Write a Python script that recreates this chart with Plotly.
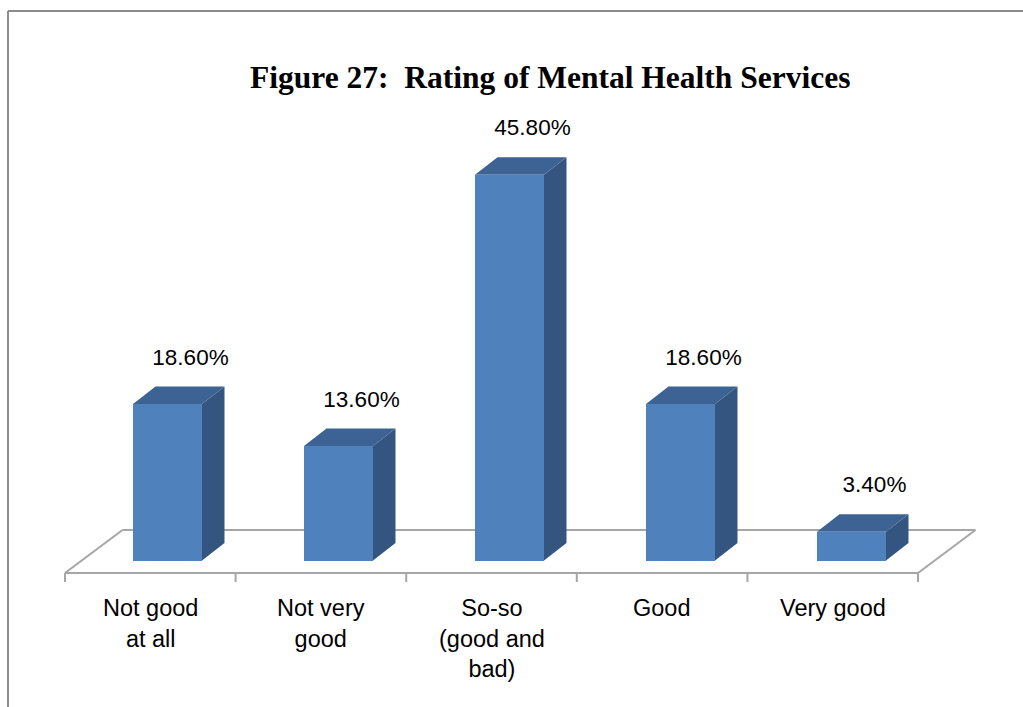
import plotly.graph_objects as go

# ---- data ----
categories = ["Not good<br>at all", "Not very<br>good", "So-so<br>(good and<br>bad)", "Good", "Very good"]
values = [18.6, 13.6, 45.8, 18.6, 3.4]
value_labels = [f"{v:.2f}%" for v in values]
title_text = "Figure 27:  Rating of Mental Health Services"

# ---- geometry (pixel <-> data mapping) ----
W, H = 1023, 707
PX_X0, PX_PER_CAT = 167.5, 171.0      # pixel of category 0 front-face centre, px per category
PX_Y0, PX_PER_PCT = 560.5, 8.42       # pixel of 0 %, px per percent

def dx(px):
    return px / PX_PER_CAT

def dy(px):
    return px / PX_PER_PCT

def X(px):
    return (px - PX_X0) / PX_PER_CAT

def Y(px):
    return (PX_Y0 - px) / PX_PER_PCT

BAR_W = dx(69)
DEPTH_X, DEPTH_Y = dx(22.5), dy(17.5)

FRONT = "#4F81BD"
SIDE = "#34557F"
TOP = "#3C6393"
FLOOR = "#A6A6A6"

fig = go.Figure()

# front faces
xs = list(range(len(values)))
fig.add_trace(go.Bar(x=xs, y=values, width=BAR_W, marker=dict(color=FRONT, line=dict(width=0)),
                     hoverinfo="skip"))

# side and top faces
for i, v in zip(xs, values):
    xr = i + BAR_W / 2
    xl = i - BAR_W / 2
    fig.add_trace(go.Scatter(
        x=[xr, xr + DEPTH_X, xr + DEPTH_X, xr, xr],
        y=[0, DEPTH_Y, v + DEPTH_Y, v, 0],
        fill="toself", fillcolor=SIDE, mode="lines", line=dict(width=0, color=SIDE),
        hoverinfo="skip"))
    fig.add_trace(go.Scatter(
        x=[xl, xl + DEPTH_X, xr + DEPTH_X, xr, xl],
        y=[v, v + DEPTH_Y, v + DEPTH_Y, v, v],
        fill="toself", fillcolor=TOP, mode="lines", line=dict(width=0, color=TOP),
        hoverinfo="skip"))

# value labels
fig.add_trace(go.Scatter(
    x=[i + dx(23) for i in xs], y=[v + dy(45) for v in values],
    mode="text", text=value_labels, textposition="middle center",
    textfont=dict(family="Liberation Sans", size=22.5, color="#000000"), hoverinfo="skip"))

# floor (drawn below traces)
fl, fr, fyf = X(65), X(918), Y(573)
bdx, bdy = dx(57.5), dy(43)
shapes = []
floor_segments = [
    (fl, fyf, fr, fyf),
    (fl + bdx, fyf + bdy, fr + bdx, fyf + bdy),
    (fl, fyf, fl + bdx, fyf + bdy),
    (fr, fyf, fr + bdx, fyf + bdy),
]
n = len(values)
for k in range(n + 1):
    tx = fl + k * (fr - fl) / n
    floor_segments.append((tx, fyf, tx, Y(582)))
for x0, y0, x1, y1 in floor_segments:
    shapes.append(dict(type="line", xref="x", yref="y", x0=x0, y0=y0, x1=x1, y1=y1,
                       line=dict(color=FLOOR, width=2), layer="below"))

# outer frame (left and top edges)
fx, fy = 8 / W, 1 - 11 / H
shapes.append(dict(type="line", xref="paper", yref="paper", x0=fx, y0=0, x1=fx, y1=fy,
                   line=dict(color="#8C8C8C", width=2)))
shapes.append(dict(type="line", xref="paper", yref="paper", x0=fx, y0=fy, x1=1, y1=fy,
                   line=dict(color="#8C8C8C", width=2)))

# category labels
annotations = []
for k, c in enumerate(categories):
    cx = fl + (k + 0.5) * (fr - fl) / n
    annotations.append(dict(x=cx, y=Y(593), xref="x", yref="y", text=c, showarrow=False,
                            xanchor="center", yanchor="top", align="center",
                            font=dict(family="Liberation Sans", size=23.5, color="#000000")))

# title
annotations.append(dict(x=X(550), y=Y(77), xref="x", yref="y", text=f"<b>{title_text}</b>",
                        showarrow=False, xanchor="center", yanchor="middle",
                        font=dict(family="Liberation Serif", size=31.5, color="#000000")))

fig.update_layout(
    width=W, height=H, margin=dict(l=0, r=0, t=0, b=0),
    paper_bgcolor="white", plot_bgcolor="white", showlegend=False,
    xaxis=dict(range=[X(0), X(W)], visible=False, fixedrange=True),
    yaxis=dict(range=[Y(H), Y(0)], visible=False, fixedrange=True),
    shapes=shapes, annotations=annotations, bargap=0,
)

fig.write_html("out.html", config={"displayModeBar": False},
               post_script="document.body.style.margin='0';document.body.style.overflow='hidden';")
